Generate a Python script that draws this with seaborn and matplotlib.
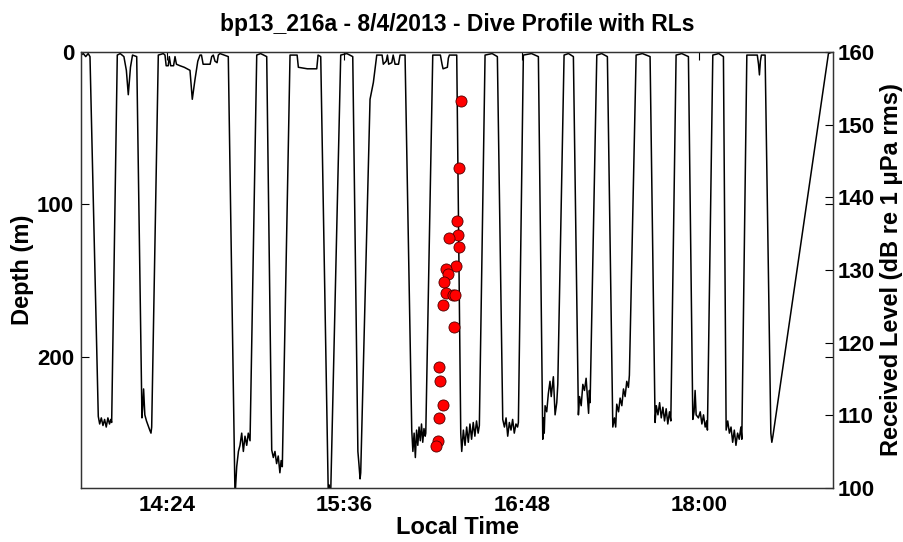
import pandas as pd
import numpy as np
import matplotlib
matplotlib.use('Agg')
import matplotlib.pyplot as plt
import matplotlib.dates as mdates
import seaborn as sns

# dive profile (local time, depth in m)
profile_time = [
    '13:49:05', '13:50:00', '13:51:00', '13:52:00', '13:52:44',
    '13:56:06', '13:56:40', '13:57:20', '13:58:00', '13:58:40', '13:59:20', '14:00:00', '14:00:40', '14:01:10', '14:01:32',
    '14:03:49', '14:05:00', '14:06:30', '14:07:30', '14:08:17', '14:09:10', '14:10:00', '14:11:42',
    '14:13:50', '14:14:10', '14:14:30', '14:15:00', '14:15:40', '14:16:20', '14:17:00', '14:17:30', '14:17:47',
    '14:20:28', '14:22:30', '14:23:11', '14:23:40', '14:24:30', '14:24:56', '14:25:30', '14:26:40', '14:27:15',
    '14:27:50', '14:29:17', '14:31:00', '14:33:20', '14:34:16', '14:35:22', '14:36:30', '14:37:24', '14:38:00',
    '14:38:40', '14:41:30', '14:42:09', '14:42:48', '14:43:29', '14:44:20', '14:44:50', '14:45:31', '14:48:53',
    '14:51:37', '14:52:18', '14:53:00', '14:53:38', '14:54:20', '14:55:00', '14:55:40', '14:56:22', '14:57:00', '14:57:43',
    '15:00:26', '15:02:00', '15:04:29',
    '15:06:31', '15:07:10', '15:07:50', '15:08:30', '15:09:10', '15:09:50', '15:10:20', '15:10:49',
    '15:13:57', '15:16:50', '15:17:20', '15:21:00', '15:24:48', '15:25:20', '15:26:25',
    '15:29:30', '15:29:50', '15:30:10', '15:30:29',
    '15:34:32', '15:37:00', '15:39:25',
    '15:41:30', '15:41:55', '15:42:23', '15:42:39', '15:46:26', '15:47:47',
    '15:49:10', '15:51:20', '15:51:50', '15:53:00', '15:53:30', '15:54:00', '15:55:15', '15:55:50', '15:56:36',
    '15:58:00', '15:58:37', '16:00:39',
    '16:03:22', '16:03:50', '16:04:20', '16:04:50', '16:05:20', '16:05:50', '16:06:20', '16:06:50', '16:07:20',
    '16:07:50', '16:08:20', '16:08:50', '16:09:04',
    '16:11:54', '16:15:00', '16:15:40', '16:16:05', '16:17:50', '16:18:14', '16:18:40', '16:21:38',
    '16:23:16', '16:23:40', '16:24:20', '16:25:00', '16:25:40', '16:26:20', '16:27:00', '16:27:40', '16:28:20',
    '16:29:00', '16:29:40', '16:30:20', '16:30:49',
    '16:33:08', '16:36:00', '16:38:08',
    '16:40:19', '16:41:00', '16:41:40', '16:42:20', '16:43:00', '16:43:40', '16:44:20', '16:45:00', '16:45:40',
    '16:46:20', '16:46:40',
    '16:48:41', '16:52:00', '16:54:47',
    '16:56:34', '16:56:50', '16:57:10', '16:57:30', '16:58:10', '16:58:50', '16:59:30', '17:00:00', '17:00:52',
    '17:01:34', '17:02:15', '17:02:40',
    '17:05:13', '17:07:00', '17:09:00',
    '17:11:02', '17:11:30', '17:12:10', '17:12:50', '17:13:30', '17:14:10', '17:14:40', '17:15:10', '17:15:30', '17:15:47',
    '17:18:30', '17:20:30', '17:22:48',
    '17:25:00', '17:25:40', '17:26:10', '17:26:36', '17:27:20', '17:27:58', '17:28:40', '17:29:20', '17:30:00',
    '17:30:40', '17:31:20', '17:31:44',
    '17:34:28', '17:37:00', '17:40:08',
    '17:42:10', '17:42:40', '17:43:20', '17:44:00', '17:44:40', '17:45:20', '17:46:00', '17:46:40', '17:47:20',
    '17:48:00', '17:48:33',
    '17:50:42', '17:53:00', '17:55:42',
    '17:57:29', '17:58:00', '17:58:25', '17:58:50', '17:59:46', '18:00:30', '18:01:10', '18:01:50', '18:02:30',
    '18:03:07', '18:03:25',
    '18:05:36', '18:08:00', '18:09:55',
    '18:11:01', '18:11:40', '18:12:20', '18:13:00', '18:13:40', '18:14:20', '18:15:00', '18:15:40', '18:16:20',
    '18:17:00', '18:17:23',
    '18:19:25', '18:23:40', '18:24:10', '18:24:32', '18:24:55', '18:25:20', '18:26:50',
    '18:29:10', '18:29:34', '18:30:00', '18:52:33', '18:53:56',
]
profile_depth = [
    2, 1, 3, 1, 3,
    239, 244, 240, 245, 241, 246, 240, 244, 241, 243,
    2, 1, 3, 12, 28, 10, 2, 3,
    240, 232, 221, 238, 242, 245, 248, 250, 246,
    2, 1, 2, 9, 9, 3, 9, 9, 3,
    8, 9, 10, 12, 31, 18, 6, 2, 2,
    8, 8, 3, 2, 6, 7, 2, 1, 3,
    292, 272, 262, 258, 250, 262, 252, 258, 250, 255,
    2, 1, 3,
    261, 266, 262, 270, 265, 276, 268, 272,
    2, 2, 10, 11, 11, 2, 3,
    292, 284, 294, 288,
    2, 1, 3,
    262, 270, 280, 276, 31, 20,
    2, 2, 8, 6, 2, 8, 7, 2, 8,
    8, 2, 2,
    248, 262, 250, 266, 248, 258, 246, 255, 244,
    256, 247, 252, 250,
    2, 2, 8, 11, 10, 4, 2, 2,
    250, 262, 248, 258, 246, 256, 244, 254, 243,
    252, 242, 250, 245,
    2, 1, 3,
    241, 246, 240, 252, 243, 248, 241, 250, 244,
    246, 243,
    2, 1, 3,
    254, 240, 250, 232, 236, 224, 216, 226, 213,
    238, 230, 218,
    2, 1, 3,
    238, 226, 232, 218, 222, 214, 226, 237, 222, 230,
    2, 1, 3,
    246, 240, 246, 231, 236, 227, 232, 221, 226,
    216, 220, 212,
    2, 1, 3,
    243, 232, 238, 230, 240, 233, 242, 234, 244,
    236, 242,
    2, 1, 3,
    241, 236, 222, 238, 240, 236, 244, 238, 246,
    242, 248,
    2, 1, 3,
    248, 242, 250, 246, 256, 248, 258, 250, 254,
    246, 254,
    2, 2, 8, 15, 6, 2, 2,
    250, 256, 252, 1, 0,
]

# received levels (dB re 1 uPa rms)
rl_time = ['16:23:16', '16:22:42', '16:21:46', '16:22:18', '16:18:38', '16:22:40', '16:21:29',
           '16:17:11', '16:18:14', '16:16:37', '16:17:18', '16:20:16', '16:20:50', '16:16:12',
           '16:20:21', '16:14:35', '16:14:59', '16:15:57', '16:14:20', '16:14:10', '16:13:14']
rl_level = [153.3, 144.1, 136.8, 134.8, 134.4, 133.1, 130.6,
            130.1, 129.5, 128.3, 126.9, 126.6, 126.5, 125.2,
            122.1, 116.7, 114.7, 111.4, 109.7, 106.5, 105.8]

tick_times = ['14:24', '15:36', '16:48', '18:00']
day = '2013-08-04 '

sns.set_style('white')
plt.rcParams['font.family'] = ['Liberation Sans Narrow', 'Liberation Sans', 'DejaVu Sans']
plt.rcParams['font.weight'] = 'bold'
plt.rcParams['axes.labelweight'] = 'bold'
for k in ['text.color', 'axes.labelcolor', 'xtick.color', 'ytick.color']:
    plt.rcParams[k] = 'black'

df = pd.DataFrame({'time': pd.to_datetime([day + t for t in profile_time]), 'depth': profile_depth})
rl = pd.DataFrame({'time': pd.to_datetime([day + t for t in rl_time]), 'level': rl_level})

fig = plt.figure(figsize=(9.04, 5.42), dpi=100)
ax = fig.add_axes([0.0896, 0.0996, 0.8319, 0.8044])
sns.lineplot(data=df, x='time', y='depth', color='k', linewidth=1.1,
             estimator=None, sort=False, ax=ax)
ax2 = ax.twinx()
sns.scatterplot(data=rl, x='time', y='level', color='#ff0000', edgecolor='#500000',
                s=64, linewidth=0.6, ax=ax2, zorder=3)

ax.set_xlim(pd.Timestamp(day + '13:49:05'), pd.Timestamp(day + '18:54:25'))
ax.set_ylim(286, 0)
ax2.set_ylim(100, 160)
ax.set_xticks(pd.to_datetime([day + t for t in tick_times]))
ax.xaxis.set_major_formatter(mdates.DateFormatter('%H:%M'))
ax.set_yticks([0, 100, 200])
ax2.set_yticks(np.arange(100, 161, 10))

ax.tick_params(direction='in', length=6, width=0.8, top=True, right=True,
               labelsize=16, pad=5)
ax2.tick_params(direction='in', length=6, width=0.8, labelsize=16, pad=3)
for a in (ax, ax2):
    for s in a.spines.values():
        s.set_color('#333333')
        s.set_linewidth(0.9)

ax.set_xlabel('Local Time', fontsize=17, labelpad=0)
ax.set_ylabel('Depth (m)', fontsize=17, labelpad=2)
ax2.set_ylabel('Received Level (dB re 1 \u03bcPa rms)', fontsize=17, labelpad=4)
ax.set_title('bp13_216a - 8/4/2013 - Dive Profile with RLs', fontsize=16.5,
             fontweight='bold', pad=15, family=['Liberation Sans', 'DejaVu Sans'])

fig.savefig('out.png', dpi=100)
